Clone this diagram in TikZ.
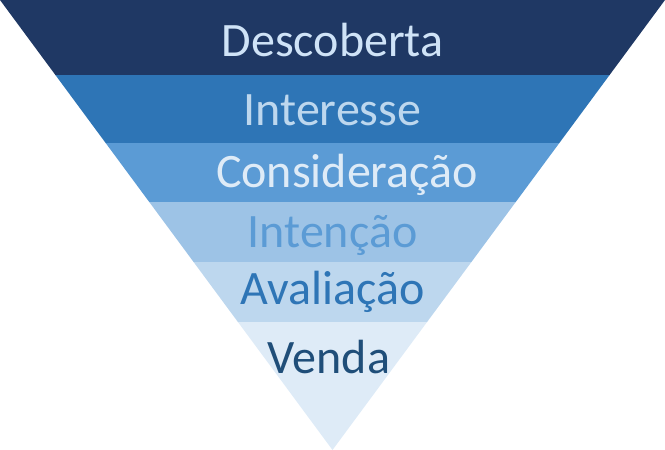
\documentclass[tikz,border=0pt]{standalone}
\usepackage{fontspec}
\setmainfont{Carlito}
\definecolor{bandA}{HTML}{1F3864}
\definecolor{bandB}{HTML}{2E75B6}
\definecolor{bandC}{HTML}{5B9BD5}
\definecolor{bandD}{HTML}{9DC3E6}
\definecolor{bandE}{HTML}{BDD7EE}
\definecolor{bandF}{HTML}{DEEBF7}
\definecolor{textA}{HTML}{CFE3F7}
\definecolor{textD}{HTML}{5B9BD5}
\definecolor{textF}{HTML}{1F4E79}
\begin{document}
\begin{tikzpicture}%
	[x=1pt,y=-1pt,
	label/.style={font=\fontsize{48}{52}\selectfont, anchor=center, inner sep=0pt}]
\useasboundingbox (0,0) rectangle (665,450);
%% band edges
\foreach \i/\y in {0/0,1/75,2/143,3/202,4/262,5/322,6/450}{
	\pgfmathsetmacro{\hw}{332.5*(1-\y/450)}
	\coordinate (L\i) at (332.5-\hw,\y);
	\coordinate (R\i) at (332.5+\hw,\y);
}
%% bands
\fill[bandA] (L0) -- (R0) -- (R1) -- (L1) -- cycle;
\fill[bandB] (L1) -- (R1) -- (R2) -- (L2) -- cycle;
\fill[bandC] (L2) -- (R2) -- (R3) -- (L3) -- cycle;
\fill[bandD] (L3) -- (R3) -- (R4) -- (L4) -- cycle;
\fill[bandE] (L4) -- (R4) -- (R5) -- (L5) -- cycle;
\fill[bandF] (L5) -- (R5) -- (L6) -- cycle;
%% labels
\node[label, text=textA] (descoberta) at (332.5,40) {Descoberta};
\node[label, text=bandE] (interesse) at (332.5,110) {Interesse};
\node[label, text=bandF] (consideracao) at (347,175) {Consideração};
\node[label, text=textD] (intencao) at (332.5,235) {Intenção};
\node[label, text=bandB] (avaliacao) at (332.5,292) {Avaliação};
\node[label, text=textF] (venda) at (329,357) {Venda};
\end{tikzpicture}
\end{document}
